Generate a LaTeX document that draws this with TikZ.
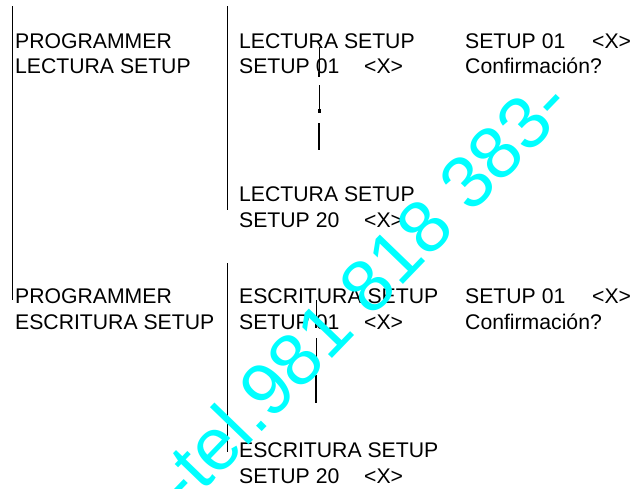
\documentclass[tikz,border=0pt]{standalone}
\usepackage{fontspec}
\setmainfont{Liberation Sans}
\usepackage{tikz}
\definecolor{telcyan}{RGB}{0,255,255}
\tikzset{%
  txt/.style={anchor=base west,inner sep=0,font=\fontsize{21.2}{25}\selectfont},
  bar/.style={draw=black,line width=0.8pt},
  tick/.style={draw=black,line width=2.6pt},
  wmark/.style={text=telcyan,inner sep=0,rotate=46,font=\fontsize{74}{80}\selectfont}
}

\begin{document}
\begin{tikzpicture}[x=1pt,y=-1pt]
      \useasboundingbox (0,0) rectangle (638,488);
      % lectura
      \path
        (15,48) node (prg_1)[txt]{PROGRAMMER}
        (15,73) node (prg_2)[txt]{LECTURA SETUP}
        (239,48) node (lec_1)[txt]{LECTURA SETUP}
        (239,73) node (lec_2)[txt]{SETUP 01}
        (364,73) node (lec_x)[txt]{<X>}
        (465,48) node (cnf_1)[txt]{SETUP 01}
        (592,48) node (cnf_x)[txt]{<X>}
        (465,73) node (cnf_2)[txt]{Confirmación?}
        (239,201.5) node (lec_3)[txt]{LECTURA SETUP}
        (239,227) node (lec_4)[txt]{SETUP 20}
        (364,227) node (lec_y)[txt]{<X>};
      % escritura
      \path
        (15,303) node (prg_3)[txt]{PROGRAMMER}
        (15,329) node (prg_4)[txt]{ESCRITURA SETUP}
        (239,303) node (esc_1)[txt]{ESCRITURA SETUP}
        (239,329) node (esc_2)[txt]{SETUP 01}
        (364,329) node (esc_x)[txt]{<X>}
        (465,303) node (cnf_3)[txt]{SETUP 01}
        (592,303) node (cnf_y)[txt]{<X>}
        (465,329) node (cnf_4)[txt]{Confirmación?}
        (239,457) node (esc_3)[txt]{ESCRITURA SETUP}
        (239,483) node (esc_4)[txt]{SETUP 20}
        (364,483) node (esc_y)[txt]{<X>};
      % rules
      \draw[bar] (12,6) -- (12,300);
      \draw[bar] (227,6) -- (227,210);
      \draw[bar] (227,263) -- (227,452);
      % scroll marks
      \draw[bar] (319,47) -- (319,75);
      \draw[tick] (319,72) -- (319,77);
      \draw[bar] (319,85) -- (319,112);
      \draw[tick] (319.5,109) -- (319.5,113);
      \draw[tick] (319,123) -- (319,150);
      \draw[bar] (316,300) -- (316,328);
      \draw[tick] (316,322) -- (316,328);
      \draw[bar] (316,338) -- (316,366);
      \draw[tick] (316.5,363) -- (316.5,367);
      \draw[tick] (316,375) -- (316,403);
      % watermark
      \node (tel)[wmark] at (361,291) {-tel.981 818 383-};
    \end{tikzpicture}
\end{document}
